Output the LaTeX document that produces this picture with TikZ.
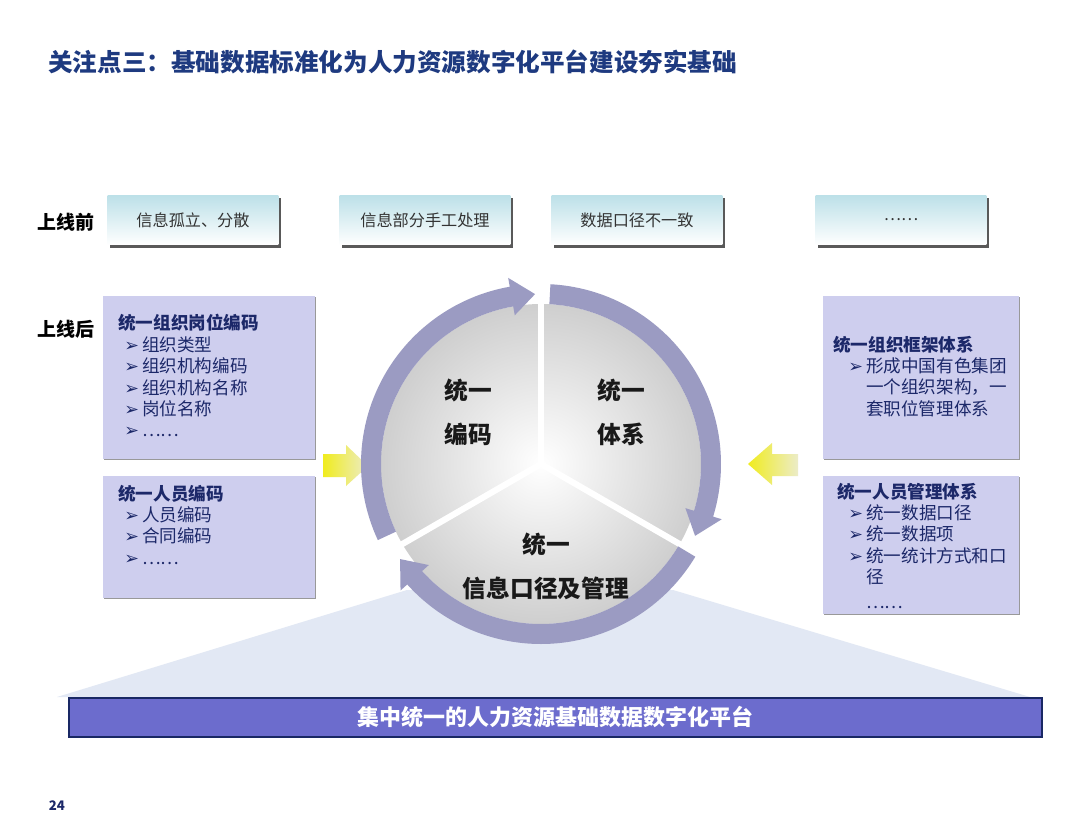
\documentclass[tikz,border=0pt]{standalone}
\usepackage{fontspec}
\setmainfont{Noto Sans CJK SC}
\newfontfamily\dejavu{DejaVu Sans}
\usetikzlibrary{shadows}
\definecolor{navy}{RGB}{28,40,105}
\definecolor{titleblue}{RGB}{30,58,128}
\definecolor{cyantop}{RGB}{188,224,232}
\definecolor{lavender}{RGB}{206,206,238}
\definecolor{ringcol}{RGB}{155,155,194}
\definecolor{trapcol}{RGB}{226,232,244}
\definecolor{barfill}{RGB}{108,108,205}
\definecolor{bardraw}{RGB}{25,40,100}
\definecolor{ylwdeep}{RGB}{240,236,30}
\definecolor{ylwpale}{RGB}{236,236,200}
\newcommand{\bul}{\makebox[10.2pt][l]{\dejavu\fontsize{10}{10}\selectfont ➢}}
\newcommand{\nobul}{\hspace*{10.2pt}}
\newcommand{\listmark}[1][3.4pt]{\hspace*{#1}\bul}
\begin{document}
\begin{tikzpicture}[x=0.02cm, y=-0.02cm,
    beforebox/.style={rectangle, minimum width=3.42cm, minimum height=1cm,
        top color=cyantop, bottom color=white, text=black!80,
        drop shadow={shadow xshift=1.6pt, shadow yshift=-1.6pt, fill=black!65, opacity=1},
        font=\fontsize{9.2}{11}\selectfont},
    afterbox/.style={rectangle, fill=lavender,
        drop shadow={shadow xshift=0.8pt, shadow yshift=-0.8pt, fill=black!40, opacity=1}},
    boxtext/.style={anchor=north west, inner sep=0pt, align=left, text=navy,
        font=\fontsize{10}{12.2}\selectfont},
    phase/.style={font=\bfseries\fontsize{10.8}{12}\selectfont},
    sector/.style={align=center, text=black!90, font=\bfseries\fontsize{13.5}{25}\selectfont},
    ringarrow/.style={fill=ringcol}]
    \useasboundingbox (0,0) rectangle (1080,835);
    \fill[white] (0,0) rectangle (1080,835);

    % heading
    \node[anchor=west, inner sep=0pt, text=titleblue, font=\bfseries\fontsize{14}{16}\selectfont]
        (heading) at (48,62) {关注点三：基础数据标准化为人力资源数字化平台建设夯实基础};

    % before / after
    \node[phase] (before) at (66,222) {上线前};
    \node[phase] (after) at (66,329) {上线后};
    \node[beforebox] (pre1) at (193,220) {信息孤立、分散};
    \node[beforebox] (pre2) at (425,220) {信息部分手工处理};
    \node[beforebox] (pre3) at (637,220) {数据口径不一致};
    \node[beforebox] (pre4) at (901,220) {……};

    % platform base
    \fill[trapcol] (57,697) -- (407,590) -- (673,590) -- (1030,697) -- cycle;

    % side boxes
    \node[afterbox, minimum width=4.24cm, minimum height=3.26cm] (orgbox) at (209,377.5) {};
    \node[afterbox, minimum width=4.24cm, minimum height=2.44cm] (staffbox) at (209,537) {};
    \node[afterbox, minimum width=3.92cm, minimum height=3.26cm] (framebox) at (921,377.5) {};
    \node[afterbox, minimum width=3.92cm, minimum height=2.76cm] (mgmtbox) at (921,545) {};
    \node[boxtext] (orgtext) at (118,314) {\textbf{统一组织岗位编码}\\
        \listmark 组织类型\\
        \listmark 组织机构编码\\
        \listmark 组织机构名称\\
        \listmark 岗位名称\\
        \listmark ……};
    \node[boxtext] (stafftext) at (118,484.5) {\textbf{统一人员编码}\\
        \listmark 人员编码\\
        \listmark 合同编码\\
        \listmark ……};
    \node[boxtext] (frametext) at (833,335.5) {\textbf{统一组织框架体系}\\
        \listmark[8.5pt]形成中国有色集团\\
        \hspace*{8.5pt}\nobul 一个组织架构，一\\
        \hspace*{8.5pt}\nobul 套职位管理体系};
    \node[boxtext] (mgmttext) at (837,482.5) {\textbf{统一人员管理体系}\\
        \listmark[6.3pt]统一数据口径\\
        \listmark[6.3pt]统一数据项\\
        \listmark[6.3pt]统一统计方式和口\\
        \hspace*{6.3pt}\nobul 径\\[2pt]
        \hspace*{6.3pt}\nobul ……};

    % yellow arrows
    \shade[left color=ylwdeep, right color=ylwpale]
        (323,454) -- (346,454) -- (346,445) -- (368,466) -- (346,486) -- (346,477) -- (323,477) -- cycle;
    \shade[left color=ylwdeep, right color=ylwpale]
        (798,454) -- (772,454) -- (772,443) -- (748,464) -- (772,485) -- (772,476) -- (798,476) -- cycle;

    % cycle
    \coordinate (hub) at (541,464);
    \begin{scope}[shift={(hub)}, yscale=-1]
        \shade[inner color=white, outer color=gray!38] (0,0) circle[radius=160];
        \foreach \a in {90,210,330}
            \draw[white, line width=3.5pt] (0,0) -- (\a:163);
        \foreach \s/\e in {205/92, 87/-25, -31/-146}
            \fill[ringarrow] (\s:180) arc[start angle=\s, end angle=\e+8, radius=180]
                -- (\e+8:189) -- (\e:170) -- (\e+8:151) -- (\e+8:160)
                arc[start angle=\e+8, end angle=\s, radius=160] -- cycle;
    \end{scope}
    \node[sector] (codelbl) at (468,412) {统一\\编码};
    \node[sector] (systemlbl) at (621,412) {统一\\体系};
    \node[sector] (infolbl) at (546,566) {统一\\信息口径及管理};

    % platform bar
    \node[draw=bardraw, line width=1.2pt, fill=barfill, minimum width=19.46cm, minimum height=0.78cm,
        text=white, font=\bfseries\fontsize{12.5}{15}\selectfont]
        (platform) at (555.5,717.5) {集中统一的人力资源基础数据数字化平台};
    \node[text=navy, font=\bfseries\fontsize{7.5}{9}\selectfont] (pageno) at (57,806) {24};
\end{tikzpicture}
\end{document}
